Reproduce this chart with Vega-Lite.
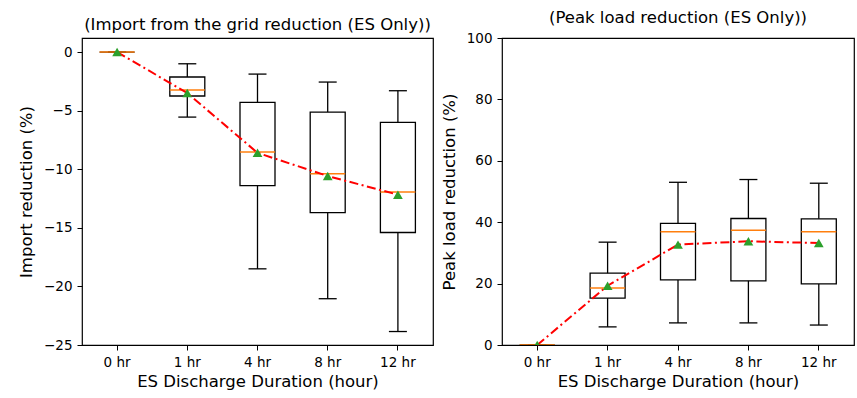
{
  "$schema": "https://vega.github.io/schema/vega-lite/v6.json",
  "background": "white",
  "padding": {"left": 17, "top": 8, "right": 5, "bottom": 5},
  "datasets": {
    "imp": [
      {"dur": "0 hr", "wlo": 0, "q1": 0, "med": 0, "q3": 0, "whi": 0, "mean": 0},
      {"dur": "1 hr", "wlo": -5.55, "q1": -3.75, "med": -3.24, "q3": -2.13, "whi": -1.0, "mean": -3.5},
      {"dur": "4 hr", "wlo": -18.5, "q1": -11.4, "med": -8.53, "q3": -4.3, "whi": -1.88, "mean": -8.6},
      {"dur": "8 hr", "wlo": -21.05, "q1": -13.7, "med": -10.38, "q3": -5.12, "whi": -2.56, "mean": -10.58},
      {"dur": "12 hr", "wlo": -23.85, "q1": -15.4, "med": -11.95, "q3": -6.0, "whi": -3.3, "mean": -12.17}
    ],
    "peak": [
      {"dur": "0 hr", "wlo": 0, "q1": 0, "med": 0, "q3": 0, "whi": 0, "mean": 0},
      {"dur": "1 hr", "wlo": 5.9, "q1": 15.3, "med": 18.6, "q3": 23.4, "whi": 33.5, "mean": 19.3},
      {"dur": "4 hr", "wlo": 7.2, "q1": 21.2, "med": 36.9, "q3": 39.6, "whi": 53.0, "mean": 32.7},
      {"dur": "8 hr", "wlo": 7.2, "q1": 20.9, "med": 37.4, "q3": 41.2, "whi": 53.9, "mean": 33.8},
      {"dur": "12 hr", "wlo": 6.5, "q1": 19.9, "med": 36.9, "q3": 41.1, "whi": 52.7, "mean": 33.2}
    ]
  },
  "hconcat": [
    {
      "width": 351,
      "height": 307,
      "data": {"name": "imp"},
      "title": {"text": "(Import from the grid reduction (ES Only))"},
      "encoding": {
        "x": {"field": "dur", "type": "ordinal", "sort": null,
              "scale": {"type": "band", "paddingInner": 0, "paddingOuter": 0},
              "axis": {"title": "ES Discharge Duration (hour)", "labelAngle": 0}}
      },
      "layer": [
        {"mark": {"type": "rule", "color": "black", "strokeWidth": 1.3},
         "encoding": {"y": {"field": "wlo", "type": "quantitative",
                            "scale": {"domain": [-25, 1.2], "nice": false, "zero": false},
                            "axis": {"title": "Import reduction (%)", "values": [0, -5, -10, -15, -20, -25]}},
                      "y2": {"field": "q1"}}},
        {"mark": {"type": "rule", "color": "black", "strokeWidth": 1.3},
         "encoding": {"y": {"field": "q3", "type": "quantitative"}, "y2": {"field": "whi"}}},
        {"mark": {"type": "bar", "width": 35, "fill": "white", "fillOpacity": 0, "stroke": "black", "strokeWidth": 1.3},
         "encoding": {"y": {"field": "q1", "type": "quantitative"}, "y2": {"field": "q3"}}},
        {"mark": {"type": "tick", "size": 18, "thickness": 1.3, "color": "black", "opacity": 1},
         "encoding": {"y": {"field": "wlo", "type": "quantitative"}}},
        {"mark": {"type": "tick", "size": 18, "thickness": 1.3, "color": "black", "opacity": 1},
         "encoding": {"y": {"field": "whi", "type": "quantitative"}}},
        {"mark": {"type": "tick", "size": 35, "thickness": 1.5, "color": "#ff7f0e", "opacity": 1},
         "encoding": {"y": {"field": "med", "type": "quantitative"}}},
        {"mark": {"type": "line", "color": "#ff0000", "strokeWidth": 2, "strokeDash": [9, 3.5, 2, 3.5]},
         "encoding": {"y": {"field": "mean", "type": "quantitative"}}},
        {"mark": {"type": "point", "shape": "triangle-up", "filled": true, "color": "#2ca02c", "size": 95, "opacity": 1},
         "encoding": {"y": {"field": "mean", "type": "quantitative"}}}
      ]
    },
    {
      "width": 352,
      "height": 307,
      "data": {"name": "peak"},
      "title": {"text": "(Peak load reduction (ES Only))"},
      "encoding": {
        "x": {"field": "dur", "type": "ordinal", "sort": null,
              "scale": {"type": "band", "paddingInner": 0, "paddingOuter": 0},
              "axis": {"title": "ES Discharge Duration (hour)", "labelAngle": 0}}
      },
      "layer": [
        {"mark": {"type": "rule", "color": "black", "strokeWidth": 1.3},
         "encoding": {"y": {"field": "wlo", "type": "quantitative",
                            "scale": {"domain": [0, 100], "nice": false},
                            "axis": {"title": "Peak load reduction (%)", "values": [0, 20, 40, 60, 80, 100]}},
                      "y2": {"field": "q1"}}},
        {"mark": {"type": "rule", "color": "black", "strokeWidth": 1.3},
         "encoding": {"y": {"field": "q3", "type": "quantitative"}, "y2": {"field": "whi"}}},
        {"mark": {"type": "bar", "width": 35, "fill": "white", "fillOpacity": 0, "stroke": "black", "strokeWidth": 1.3},
         "encoding": {"y": {"field": "q1", "type": "quantitative"}, "y2": {"field": "q3"}}},
        {"mark": {"type": "tick", "size": 18, "thickness": 1.3, "color": "black", "opacity": 1},
         "encoding": {"y": {"field": "wlo", "type": "quantitative"}}},
        {"mark": {"type": "tick", "size": 18, "thickness": 1.3, "color": "black", "opacity": 1},
         "encoding": {"y": {"field": "whi", "type": "quantitative"}}},
        {"mark": {"type": "tick", "size": 35, "thickness": 1.5, "color": "#ff7f0e", "opacity": 1, "clip": true},
         "encoding": {"y": {"field": "med", "type": "quantitative"}}},
        {"mark": {"type": "line", "color": "#ff0000", "strokeWidth": 2, "strokeDash": [9, 3.5, 2, 3.5]},
         "encoding": {"y": {"field": "mean", "type": "quantitative"}}},
        {"mark": {"type": "point", "shape": "triangle-up", "filled": true, "color": "#2ca02c", "size": 95, "opacity": 1, "clip": true},
         "encoding": {"y": {"field": "mean", "type": "quantitative"}}}
      ]
    }
  ],
  "spacing": 69,
  "bounds": "flush",
  "resolve": {"scale": {"y": "independent", "x": "independent"}},
  "config": {
    "font": "DejaVu Sans",
    "view": {"stroke": "black", "strokeWidth": 1.2},
    "axis": {
      "grid": false, "domain": false,
      "tickColor": "black", "tickSize": 5, "tickWidth": 1,
      "labelColor": "black", "labelFontSize": 13.5, "labelFont": "DejaVu Sans", "labelPadding": 5,
      "titleColor": "black", "titleFontSize": 16.5, "titleFontWeight": "normal", "titleFont": "DejaVu Sans"
    },
    "axisY": {"titlePadding": 9},
    "axisX": {"titlePadding": 5},
    "title": {"fontSize": 16.5, "fontWeight": "normal", "font": "DejaVu Sans", "color": "black", "offset": 5}
  }
}
